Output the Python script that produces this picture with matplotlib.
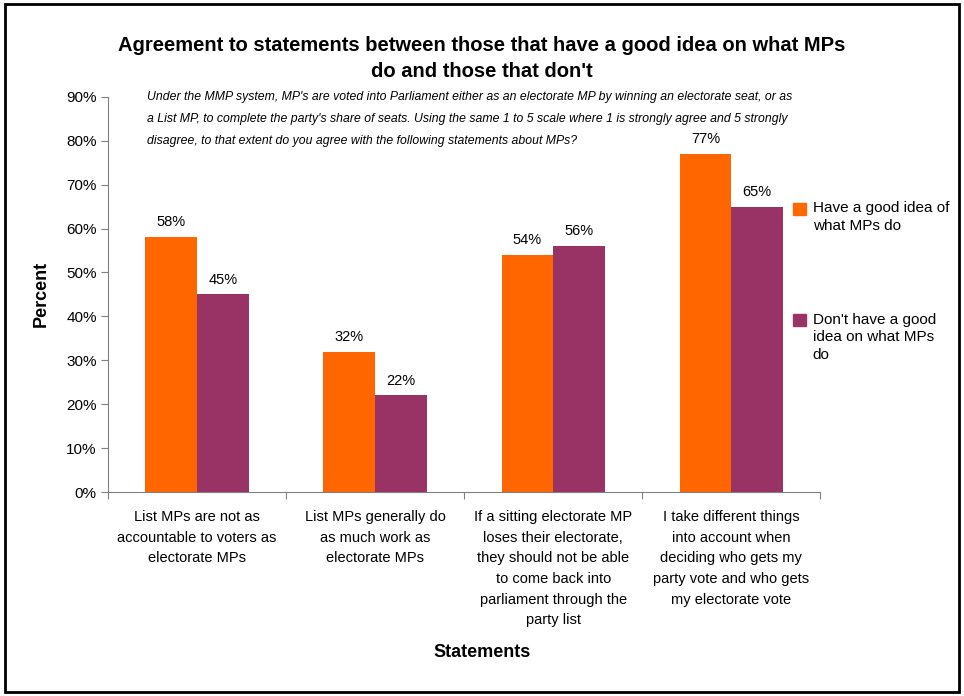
import matplotlib.pyplot as plt
import matplotlib.patches as patches
import numpy as np

plt.rcParams['font.family'] = ['Liberation Sans', 'DejaVu Sans']

categories = [
    "List MPs are not as\naccountable to voters as\nelectorate MPs",
    "List MPs generally do\nas much work as\nelectorate MPs",
    "If a sitting electorate MP\nloses their electorate,\nthey should not be able\nto come back into\nparliament through the\nparty list",
    "I take different things\ninto account when\ndeciding who gets my\nparty vote and who gets\nmy electorate vote",
]
good_idea = [58, 32, 54, 77]
no_idea = [45, 22, 56, 65]
series_names = ["Have a good idea of\nwhat MPs do", "Don't have a good\nidea on what MPs\ndo"]
yticks = [0, 10, 20, 30, 40, 50, 60, 70, 80, 90]
subtitle = [
    "Under the MMP system, MP's are voted into Parliament either as an electorate MP by winning an electorate seat, or as",
    "a List MP, to complete the party's share of seats. Using the same 1 to 5 scale where 1 is strongly agree and 5 strongly",
    "disagree, to that extent do you agree with the following statements about MPs?",
]

orange = '#FF6600'
purple = '#993366'

fig = plt.figure(figsize=(9.64, 6.96), dpi=100)
ax = fig.add_axes([0.112, 0.293, 0.739, 0.568])

x = np.arange(len(categories))
w = 0.29
b1 = ax.bar(x - w / 2, good_idea, w, color=orange)
b2 = ax.bar(x + w / 2, no_idea, w, color=purple)

for bars, vals in ((b1, good_idea), (b2, no_idea)):
    for r, v in zip(bars, vals):
        ax.text(r.get_x() + r.get_width() / 2, v + 1.8, f"{v}%",
                ha='center', va='bottom', fontsize=10.5)

ax.set_xlim(-0.5, len(categories) - 0.5)
ax.set_ylim(0, 90)
ax.set_yticks(yticks)
ax.set_yticklabels([f"{t}%" for t in yticks], fontsize=11)
ax.set_xticks(np.arange(-0.5, len(categories)), minor=False)
ax.set_xticklabels([])
ax.set_xticks(x, minor=True)
ax.set_xticklabels(categories, minor=True, fontsize=10.5, linespacing=1.6)
ax.tick_params(axis='x', which='minor', length=0, pad=13)
ax.tick_params(axis='x', which='major', length=5, direction='out', color='#808080')
ax.tick_params(axis='y', length=5, direction='out', color='#808080', pad=3)
for s in ('top', 'right'):
    ax.spines[s].set_visible(False)
for s in ('left', 'bottom'):
    ax.spines[s].set_color('#808080')

ax.set_ylabel("Percent", fontsize=13, fontweight='bold', labelpad=12)
fig.text(0.50, 0.063, "Statements", ha='center', va='center', fontsize=13, fontweight='bold')

fig.text(0.50, 0.916, "Agreement to statements between those that have a good idea on what MPs\ndo and those that don't",
         ha='center', va='center', fontsize=14.5, fontweight='bold', linespacing=1.45)

# subtitle, one text per line
for i, line in enumerate(subtitle):
    fig.text(0.153, 0.860 - i * 0.0315, line, ha='left', va='center',
             fontsize=8.8, style='italic')

# legend
for i, (name, col) in enumerate(zip(series_names, [orange, purple])):
    y0 = 0.700 - i * 0.160
    fig.patches.append(patches.Rectangle((0.823, y0 - 0.009), 0.013, 0.018,
                                         transform=fig.transFigure, color=col))
    fig.text(0.843, y0 + 0.011, name, ha='left', va='top', fontsize=11, linespacing=1.35)

fig.patches.append(patches.Rectangle((0.005, 0.006), 0.99, 0.988, transform=fig.transFigure,
                                     fill=False, edgecolor='black', linewidth=2))

fig.savefig('out.png', dpi=100)
